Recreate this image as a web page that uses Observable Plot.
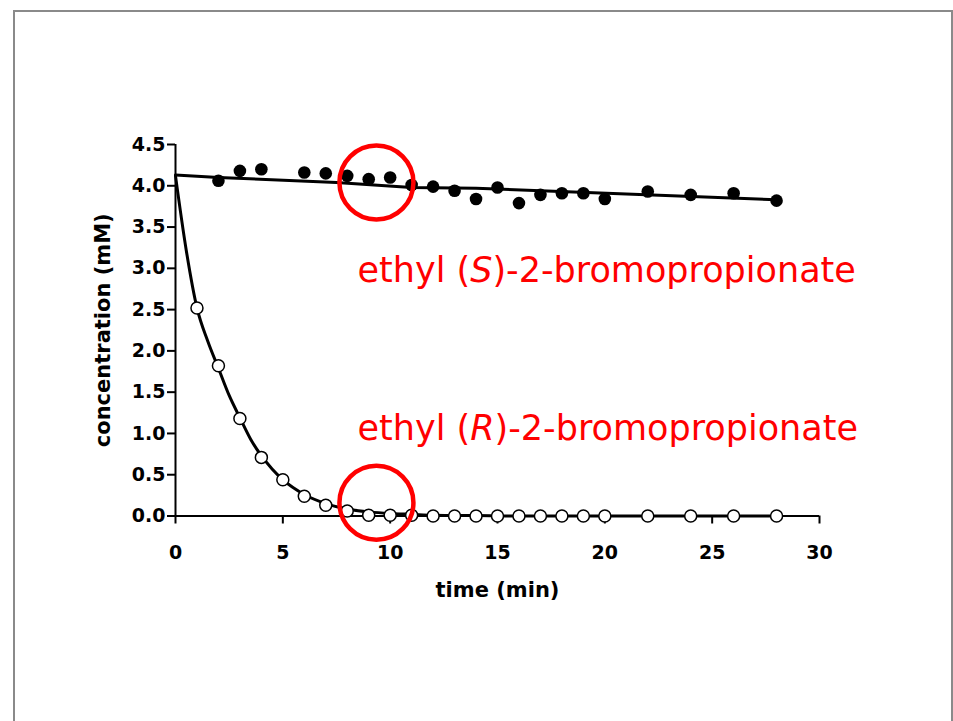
<!DOCTYPE html>
<html>
<head>
<meta charset="utf-8">
<script src="https://cdn.jsdelivr.net/npm/d3@7"></script>
<script src="https://cdn.jsdelivr.net/npm/@observablehq/plot@0.6"></script>
<style>
  html, body { margin: 0; padding: 0; background: #fff; width: 953px; height: 721px; overflow: hidden; }
  #wrap { position: relative; width: 953px; height: 721px; }
  #frame { position: absolute; left: 13px; top: 10px; width: 936px; height: 800px; border: 2px solid #8a8a8a; box-sizing: content-box; pointer-events: none; }
  #chart { position: absolute; left: 0; top: 0; }
</style>
</head>
<body>
<div id="wrap">
  <div id="chart"></div>
  <div id="frame"></div>
</div>
<script>
// ---- data ----
const timeS = [2, 3, 4, 6, 7, 8, 9, 10, 11, 12, 13, 14, 15, 16, 17, 18, 19, 20, 22, 24, 26, 28];
const concS = [4.06, 4.18, 4.20, 4.16, 4.15, 4.12, 4.08, 4.10, 4.01, 3.99, 3.94, 3.84, 3.98, 3.79, 3.89, 3.91, 3.91, 3.84, 3.93, 3.89, 3.91, 3.82];

const timeR = [1, 2, 3, 4, 5, 6, 7, 8, 9, 10, 11, 12, 13, 14, 15, 16, 17, 18, 19, 20, 22, 24, 26, 28];
const concR = [2.52, 1.82, 1.18, 0.71, 0.44, 0.24, 0.13, 0.06, 0.01, 0.01, 0.01, 0, 0, 0, 0, 0, 0, 0, 0, 0, 0, 0, 0, 0];

// fitted curves
const fitTimeS = [0, 2, 7.5, 11, 14, 21, 28];
const fitConcS = [4.13, 4.10, 4.04, 3.98, 3.97, 3.90, 3.83];
const fitTimeR = [0, 0.5, 1, 1.5, 2, 2.5, 3, 3.5, 4, 4.5, 5, 6, 7, 8, 9, 10, 11, 12, 14, 16, 28];
const fitConcR = [4.12, 3.22, 2.52, 2.12, 1.79, 1.46, 1.19, 0.93, 0.73, 0.57, 0.44, 0.26, 0.15, 0.085, 0.05, 0.03, 0.02, 0.01, 0.005, 0, 0];

// annotations
const labelText = ["ethyl (S)-2-bromopropionate", "ethyl (R)-2-bromopropionate"];
const labelX = [8.48, 8.48];
const labelY = [2.83, 0.915];
const circleX = [9.36, 9.36];
const circleY = [4.04, 0.16];

const xTicks = [0, 5, 10, 15, 20, 25, 30];
const yTicks = [0, 0.5, 1, 1.5, 2, 2.5, 3, 3.5, 4, 4.5];
const xTitle = "time (min)";
const yTitle = "concentration (mM)";

// ---- build tables ----
const ptsS = timeS.map((t, i) => ({t, c: concS[i]}));
const ptsR = timeR.map((t, i) => ({t, c: concR[i]}));
const fitS = fitTimeS.map((t, i) => ({t, c: fitConcS[i]}));
const fitR = fitTimeR.map((t, i) => ({t, c: fitConcR[i]}));
const labels = labelText.map((s, i) => ({s, x: labelX[i], y: labelY[i]}));
const circles = circleX.map((x, i) => ({x, y: circleY[i]}));

const boldFont = "'DejaVu Sans', Verdana, sans-serif";

const chart = Plot.plot({
  width: 953,
  height: 721,
  marginLeft: 175,
  marginRight: 134,
  marginTop: 144,
  marginBottom: 205.5,
  x: {domain: [0, 30]},
  y: {domain: [0, 4.5]},
  style: {fontFamily: boldFont, background: "transparent", color: "black", overflow: "visible"},
  marks: [
    Plot.axisX({ticks: xTicks, tickSize: 8, tickPadding: 21, strokeWidth: 2, fontSize: 19, fontWeight: "bold", tickFormat: d => String(d), label: null}),
    Plot.axisY({ticks: yTicks, tickSize: 8, tickPadding: 2, strokeWidth: 2, fontSize: 19, fontWeight: "bold", tickFormat: d3.format(".1f"), label: null}),
    Plot.ruleY([0], {stroke: "black", strokeWidth: 2}),
    Plot.ruleX([0], {stroke: "black", strokeWidth: 2}),
    Plot.line(fitS, {x: "t", y: "c", stroke: "black", strokeWidth: 3}),
    Plot.line(fitR, {x: "t", y: "c", stroke: "black", strokeWidth: 3, curve: "monotone-x"}),
    Plot.dot(ptsS, {x: "t", y: "c", r: 6.3, fill: "black", stroke: "none"}),
    Plot.dot(ptsR, {x: "t", y: "c", r: 6, fill: "white", stroke: "black", strokeWidth: 1.5}),
    Plot.dot(circles, {x: "x", y: "y", r: 37, fill: "none", stroke: "#f00", strokeWidth: 4.5}),
    Plot.text(labels, {x: "x", y: "y", text: "s", textAnchor: "start", lineAnchor: "bottom", fill: "#f00", fontSize: 35, fontFamily: "'DejaVu Sans', Verdana, sans-serif"}),
    Plot.text([xTitle], {frameAnchor: "bottom", dy: 74.5, text: d => d, textAnchor: "middle", lineAnchor: "middle", fontSize: 21, fontWeight: "bold", fill: "black"}),
    Plot.text([yTitle], {frameAnchor: "left", dx: -72, rotate: -90, text: d => d, textAnchor: "middle", lineAnchor: "middle", fontSize: 21, fontWeight: "bold", fill: "black"})
  ]
});

document.getElementById("chart").appendChild(chart);

// italicize the stereodescriptor inside the red labels
d3.select(chart).selectAll("text").each(function () {
  const s = this.textContent;
  const m = s.match(/^(.*\()([SR])(\).*)$/);
  if (!m || this.querySelector("tspan")) return;
  const el = d3.select(this);
  el.text(null);
  el.append("tspan").text(m[1]);
  el.append("tspan").attr("font-style", "italic").text(m[2]);
  el.append("tspan").text(m[3]);
});
</script>
</body>
</html>
